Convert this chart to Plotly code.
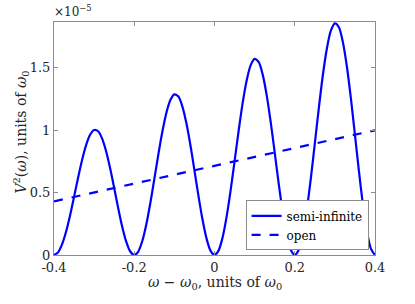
import plotly.graph_objects as go

# frequency offset (units of omega_0)
omega = [-0.40, -0.39, -0.38, -0.37, -0.36, -0.35, -0.34, -0.33, -0.32, -0.31,
         -0.30, -0.29, -0.28, -0.27, -0.26, -0.25, -0.24, -0.23, -0.22, -0.21,
         -0.20, -0.19, -0.18, -0.17, -0.16, -0.15, -0.14, -0.13, -0.12, -0.11,
         -0.10, -0.09, -0.08, -0.07, -0.06, -0.05, -0.04, -0.03, -0.02, -0.01,
         0.00, 0.01, 0.02, 0.03, 0.04, 0.05, 0.06, 0.07, 0.08, 0.09,
         0.10, 0.11, 0.12, 0.13, 0.14, 0.15, 0.16, 0.17, 0.18, 0.19,
         0.20, 0.21, 0.22, 0.23, 0.24, 0.25, 0.26, 0.27, 0.28, 0.29,
         0.30, 0.31, 0.32, 0.33, 0.34, 0.35, 0.36, 0.37, 0.38, 0.39,
         0.40]
# V^2 semi-infinite (x 1e-5)
semi_infinite = [0.0, 0.021, 0.085, 0.186, 0.317, 0.466, 0.619, 0.762, 0.881, 0.964,
                 1.0025, 0.992, 0.933, 0.830, 0.693, 0.537, 0.376, 0.227, 0.107, 0.028,
                 0.0, 0.028, 0.112, 0.245, 0.415, 0.608, 0.805, 0.988, 1.139, 1.242,
                 1.2875, 1.270, 1.190, 1.056, 0.880, 0.679, 0.474, 0.286, 0.134, 0.035,
                 0.0, 0.035, 0.139, 0.304, 0.514, 0.751, 0.992, 1.215, 1.397, 1.520,
                 1.5725, 1.548, 1.448, 1.282, 1.067, 0.822, 0.573, 0.345, 0.161, 0.042,
                 0.0, 0.042, 0.167, 0.362, 0.612, 0.893, 1.178, 1.441, 1.654, 1.798,
                 1.8575, 1.826, 1.706, 1.509, 1.253, 0.964, 0.671, 0.403, 0.188, 0.049,
                 0.0]
# V^2 open (x 1e-5)
open_x = [-0.4, 0.4]
open_y = [0.43, 1.0]

xticks = [-0.4, -0.2, 0, 0.2, 0.4]
xticklabels = ["-0.4", "-0.2", "0", "0.2", "0.4"]
yticks = [0, 0.5, 1, 1.5]
yticklabels = ["0", "0.5", "1", "1.5"]

FONT = "DejaVu Serif, Liberation Serif, serif"
BLUE = "#0000ff"
AX = "#8c8c8c"
TXT = "#262626"

fig = go.Figure()
fig.add_trace(go.Scatter(x=omega, y=semi_infinite, mode="lines", name="semi-infinite",
                         line=dict(color=BLUE, width=2.2, shape="spline", smoothing=0.8)))
fig.add_trace(go.Scatter(x=open_x, y=open_y, mode="lines", name="open",
                         line=dict(color=BLUE, width=2.2, dash="dash")))

fig.update_layout(
    width=415, height=304,
    margin=dict(l=54, r=40, t=22, b=49),
    paper_bgcolor="white", plot_bgcolor="white",
    font=dict(family=FONT, size=13, color=TXT),
    showlegend=True,
    legend=dict(x=0.98, y=0.02, xanchor="right", yanchor="bottom",
                bgcolor="white", bordercolor=AX, borderwidth=1,
                font=dict(family=FONT, size=12, color="black"),
                tracegroupgap=0, itemwidth=30),
    xaxis=dict(range=[-0.4, 0.4], tickvals=xticks, ticktext=xticklabels, automargin=False,
               showgrid=False, zeroline=False, showline=True, linecolor=AX, linewidth=1,
               mirror="ticks", ticks="inside", ticklen=4, tickcolor=AX),
    yaxis=dict(range=[0, 1.868], tickvals=yticks, ticktext=yticklabels, automargin=False,
               showgrid=False, zeroline=False, showline=True, linecolor=AX, linewidth=1,
               mirror="ticks", ticks="inside", ticklen=4, tickcolor=AX),
)
fig.add_annotation(text="<i>ω</i> − <i>ω</i><sub>0</sub>, units of <i>ω</i><sub>0</sub>",
                   xref="paper", yref="paper", x=0.5, y=0, xanchor="center", yanchor="middle",
                   yshift=-28, showarrow=False, font=dict(family=FONT, size=14, color=TXT))
fig.add_annotation(text="<i>V</i><sup>2</sup>(<i>ω</i>), units of <i>ω</i><sub>0</sub>",
                   xref="paper", yref="paper", x=0, y=0.5, xanchor="center", yanchor="middle",
                   xshift=-33, yshift=6, textangle=-90, showarrow=False,
                   font=dict(family=FONT, size=14, color=TXT))
fig.add_annotation(text="×10<sup>−5</sup>", xref="paper", yref="paper", x=0, y=1,
                   xanchor="left", yanchor="bottom", xshift=-2, yshift=1, showarrow=False,
                   font=dict(family=FONT, size=12, color=TXT))

fig.write_html("out.html", config={"displayModeBar": False},
               post_script="document.body.style.margin='0';")
